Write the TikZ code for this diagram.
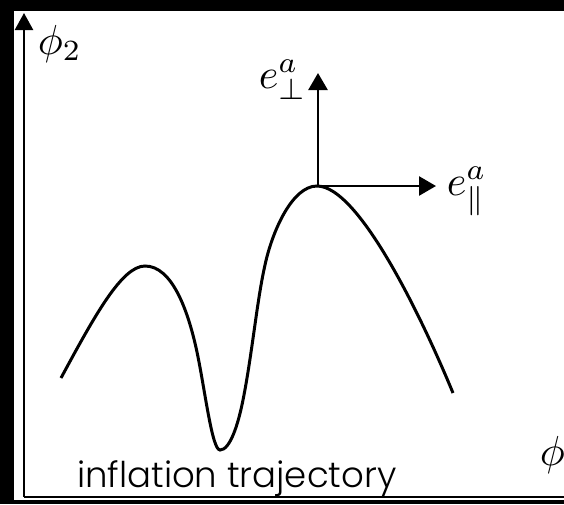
\documentclass[tikz,border=0pt]{standalone}
\usepackage{fontspec}
\newfontfamily\labelfont{Poppins Light}
\usetikzlibrary{arrows.meta}
\tikzset{
  axis/.style={line width=2.4pt,-{Triangle[length=17pt,width=18pt]}},
  vec/.style={line width=2.6pt,-{Triangle[length=17pt,width=19pt]}},
  traj/.style={line width=3pt},
  mathlbl/.style={inner sep=0pt,font=\fontsize{10}{12}\selectfont,scale=4.2},
  txtlbl/.style={inner sep=0pt,font=\labelfont\fontsize{35.5}{42}\selectfont}
}
\begin{document}
\begin{tikzpicture}[x=1pt,y=-1pt]
\useasboundingbox (0,0) rectangle (564,504);
\clip (0,0) rectangle (564,504);
\fill[black] (0,0) rectangle (564,504);
\fill[white] (14,11) rectangle (570,500);
% axes
\coordinate (origin) at (24,497);
\coordinate (ytip) at (24,13);
\coordinate (xtip) at (581,497);
\draw[axis] (origin) -- (ytip);
\draw[axis] (origin) -- (xtip);
\node[mathlbl,anchor=base west] (phi2) at (37,54) {$\phi_2$};
\node[mathlbl,anchor=base west] (phi1) at (539,465) {$\phi_1$};
% trajectory
\draw[traj] (61,378) .. controls (95,315) and (122,266) .. (145,266)
  .. controls (172,266) and (188,310) .. (197,352)
  .. controls (205,390) and (212,450) .. (220,450)
  .. controls (230,450) and (238,425) .. (243,400)
  .. controls (252,355) and (257,300) .. (265,265)
  .. controls (272,232) and (292,186) .. (317,186)
  .. controls (360,186) and (425,325) .. (453,393);
% basis vectors
\coordinate (top) at (318,186);
\coordinate (perptip) at (318,73);
\coordinate (partip) at (436,186);
\draw[vec] (top) -- (perptip);
\draw[vec] (top) -- (partip);
\node[mathlbl,anchor=base west] (eperp) at (258,88) {$e_\perp^a$};
\node[mathlbl,anchor=base west] (epar) at (446,195) {$e_\parallel^a$};
\node[txtlbl,anchor=base west] (traj) at (77,487) {inflation trajectory};
\end{tikzpicture}
\end{document}
